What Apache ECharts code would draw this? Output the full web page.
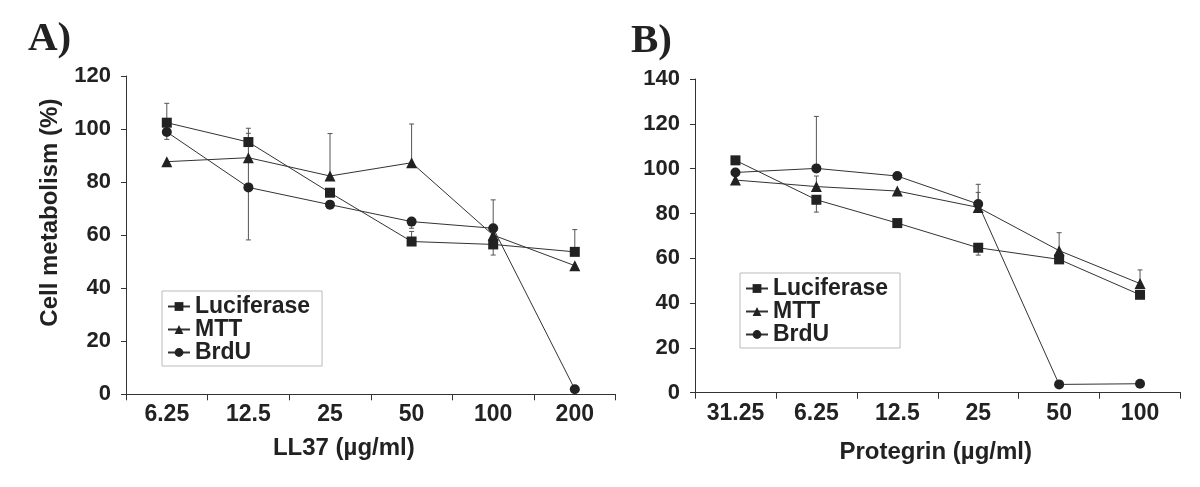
<!DOCTYPE html>
<html><head><meta charset="utf-8">
<script src="https://cdn.jsdelivr.net/npm/echarts@6/dist/echarts.min.js"></script>
<style>html,body{margin:0;padding:0;background:#fff}#c{width:1200px;height:487px}</style>
</head><body><div id="c"></div>
<script>
// ---------- data ----------
const catsA = ['6.25', '12.5', '25', '50', '100', '200'];
const lucA = [102.4, 95.1, 76.0, 57.6, 56.5, 53.7];
const mttA = [87.7, 89.2, 82.3, 87.3, 60.0, 48.5];
const brdA = [98.9, 78.0, 71.5, 65.1, 62.6, 1.9];
const lucA_plus = [7.3, 5.2, 0, 3.8, 0, 8.4];
const lucA_minus = [6.3, 0, 0, 0, 4.0, 0];
const mttA_plus = [0, 0, 16.0, 14.6, 0, 0];
const mttA_minus = [0, 0, 0, 0, 0, 1.3];
const brdA_plus = [0, 20.4, 0, 0, 10.7, 0];
const brdA_minus = [0, 19.8, 0, 2.5, 0, 0];

const catsB = ['31.25', '6.25', '12.5', '25', '50', '100'];
const lucB = [103.7, 86.1, 75.7, 64.7, 59.5, 43.7];
const mttB = [94.9, 92.0, 90.0, 82.7, 63.4, 48.7];
const brdB = [98.3, 100.1, 96.7, 84.2, 3.7, 4.0];
const lucB_plus = [0, 0, 0, 0, 0, 0];
const lucB_minus = [0, 5.5, 0, 3.3, 0, 0];
const mttB_plus = [0, 4.7, 0, 6.7, 8.0, 6.1];
const mttB_minus = [0, 0, 0, 0, 0, 0];
const brdB_plus = [0, 23.2, 0, 8.8, 0, 0];
const brdB_minus = [0, 0, 0, 0, 0, 0];

const seriesNames = ['Luciferase', 'MTT', 'BrdU'];

// ---------- helpers ----------
const FONT = 'Liberation Sans, Arial, sans-serif';
const TXT = '#222';
function errData(vals, plus, minus) {
  const out = [];
  vals.forEach((v, i) => {
    if (plus[i] || minus[i]) out.push([i, v - minus[i], v + plus[i], v]);
  });
  return out;
}
function errRender(params, api) {
  const x = api.value(0), lo = api.value(1), hi = api.value(2), v = api.value(3);
  const pHi = api.coord([x, hi]), pLo = api.coord([x, lo]);
  const w = 2.5, st = { stroke: '#555', lineWidth: 1 };
  const ch = [{ type: 'line', shape: { x1: pHi[0], y1: pHi[1], x2: pLo[0], y2: pLo[1] }, style: st }];
  if (hi > v) ch.push({ type: 'line', shape: { x1: pHi[0] - w, y1: pHi[1], x2: pHi[0] + w, y2: pHi[1] }, style: st });
  if (lo < v) ch.push({ type: 'line', shape: { x1: pLo[0] - w, y1: pLo[1], x2: pLo[0] + w, y2: pLo[1] }, style: st });
  return { type: 'group', children: ch };
}
function xAxis(idx, cats, name, gap, pad) {
  return {
    type: 'category', gridIndex: idx, data: cats, boundaryGap: true,
    name: name, nameLocation: 'middle', nameGap: gap,
    nameTextStyle: { fontFamily: FONT, fontWeight: 'bold', fontSize: 24, color: TXT, padding: pad },
    axisLine: { show: true, lineStyle: { color: '#333', width: 1 } },
    axisTick: { show: true, interval: 0, length: 6, inside: false, alignWithLabel: false, lineStyle: { color: '#333' } },
    axisLabel: { interval: 0, margin: 9, fontFamily: FONT, fontWeight: 'bold', fontSize: 23, color: TXT },
    splitLine: { show: false }
  };
}
function yAxis(idx, max, name) {
  return {
    type: 'value', gridIndex: idx, min: 0, max: max, interval: 20,
    name: name, nameLocation: 'middle', nameGap: 64, nameRotate: 90,
    nameTextStyle: { fontFamily: FONT, fontWeight: 'bold', fontSize: 24, color: TXT, padding: [0, 0, 0, 45] },
    axisLine: { show: true, lineStyle: { color: '#333', width: 1 } },
    axisTick: { show: true, length: 5, inside: false, lineStyle: { color: '#333' } },
    axisLabel: { margin: 15, fontFamily: FONT, fontWeight: 'bold', fontSize: 22, color: TXT },
    splitLine: { show: false }
  };
}
function lineSeries(name, sym, data, idx) {
  return {
    type: 'line', name: name, xAxisIndex: idx, yAxisIndex: idx, data: data,
    symbol: sym, symbolSize: sym === 'triangle' ? 11 : 10,
    showAllSymbol: true, z: 3,
    itemStyle: { color: '#222', borderWidth: 0 },
    lineStyle: { color: '#333', width: 1 }
  };
}
function errSeries(name, vals, plus, minus, idx) {
  return {
    type: 'custom', name: name + '_err', xAxisIndex: idx, yAxisIndex: idx,
    data: errData(vals, plus, minus), renderItem: errRender, z: 2,
    encode: { x: 0, y: [1, 2] }, silent: true
  };
}
function legend(left, top) {
  return {
    data: seriesNames, orient: 'vertical', left: left, top: top,
    itemWidth: 22, itemHeight: 11, itemGap: 0, itemTextGap: 3,
    padding: [4, 12, 2, 5], borderColor: '#bbb', borderWidth: 1,
    backgroundColor: '#fff', selectedMode: false,
    textStyle: { fontFamily: FONT, fontWeight: 'bold', fontSize: 23, lineHeight: 22, color: TXT }
  };
}

const option = {
  animation: false,
  backgroundColor: '#fff',
  title: [
    { text: 'A)', left: 23, top: 14, textStyle: { fontFamily: 'Liberation Serif, Times New Roman, serif', fontWeight: 'bold', fontSize: 41, color: TXT } },
    { text: 'B)', left: 626, top: 16, textStyle: { fontFamily: 'Liberation Serif, Times New Roman, serif', fontWeight: 'bold', fontSize: 41, color: TXT } }
  ],
  grid: [
    { left: 126, top: 76, width: 489.6, height: 318.3 },
    { left: 695, top: 79, width: 485.5, height: 313.7 }
  ],
  xAxis: [
    xAxis(0, catsA, 'LL37 (µg/ml)', 42, [0, 54, 0, 0]),
    xAxis(1, catsB, 'Protegrin (µg/ml)', 48, [0, 4, 0, 0])
  ],
  yAxis: [yAxis(0, 120, 'Cell metabolism (%)'), yAxis(1, 140, '')],
  legend: [legend(162, 291), legend(740, 273)],
  series: [
    errSeries('Luciferase', lucA, lucA_plus, lucA_minus, 0),
    errSeries('MTT', mttA, mttA_plus, mttA_minus, 0),
    errSeries('BrdU', brdA, brdA_plus, brdA_minus, 0),
    lineSeries('Luciferase', 'rect', lucA, 0),
    lineSeries('MTT', 'triangle', mttA, 0),
    lineSeries('BrdU', 'circle', brdA, 0),
    errSeries('Luciferase', lucB, lucB_plus, lucB_minus, 1),
    errSeries('MTT', mttB, mttB_plus, mttB_minus, 1),
    errSeries('BrdU', brdB, brdB_plus, brdB_minus, 1),
    lineSeries('Luciferase', 'rect', lucB, 1),
    lineSeries('MTT', 'triangle', mttB, 1),
    lineSeries('BrdU', 'circle', brdB, 1)
  ]
};
const chart = echarts.init(document.getElementById('c'), null, { renderer: 'canvas' });
chart.setOption(option);
</script>
</body></html>
